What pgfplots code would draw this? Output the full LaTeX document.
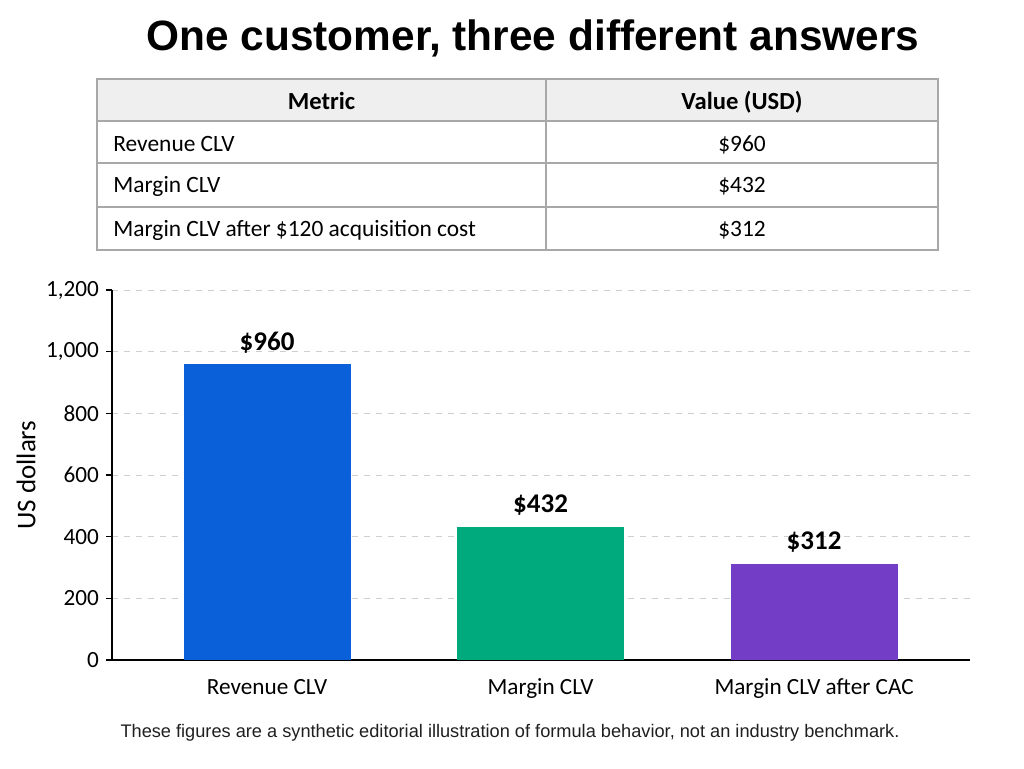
\documentclass[border=0pt]{standalone}
\usepackage{pgfplots}
\pgfplotsset{compat=1.18}
\usepackage{fontspec}
\setmainfont{Carlito}
\newfontfamily\arialfont{Liberation Sans}

\definecolor{barblue}{HTML}{0A60D8}
\definecolor{bargreen}{HTML}{00AA7D}
\definecolor{barpurple}{HTML}{733EC5}
\definecolor{tblline}{HTML}{A8A8A8}
\definecolor{tblhead}{HTML}{EFEFEF}
\definecolor{gridgray}{HTML}{CFCFCF}

\begin{document}
\begin{tikzpicture}[x=1pt,y=1pt]
  \path[use as bounding box] (0,0) rectangle (512,384);

  % title
  \node[font=\arialfont\bfseries\fontsize{21.2}{25}\selectfont] at (266.5,365) {One customer, three different answers};

  % table
  \fill[tblhead] (48.5,323.5) rectangle (469,344.5);
  \draw[tblline, line width=0.6pt] (48.5,259) rectangle (469,344.5);
  \foreach \yy in {323.5,302.5,280.5} \draw[tblline, line width=0.6pt] (48.5,\yy) -- (469,\yy);
  \draw[tblline, line width=0.6pt] (273,259) -- (273,344.5);
  \begin{scope}[every node/.style={font=\fontsize{11.7}{14}\selectfont, inner sep=0pt}]
    \node[anchor=base, font=\bfseries\fontsize{12.3}{14}\selectfont] at (160.75,329.3) {Metric};
    \node[anchor=base, font=\bfseries\fontsize{12.3}{14}\selectfont] at (371,329.3) {Value (USD)};
    \node[anchor=base west] at (56.5,308.5) {Revenue CLV};
    \node[anchor=base west] at (56.5,287.5) {Margin CLV};
    \node[anchor=base west] at (56.5,265.7) {Margin CLV after \$120 acquisition cost};
    \node[anchor=base] at (371,308.5) {\$960};
    \node[anchor=base] at (371,287.5) {\$432};
    \node[anchor=base] at (371,265.7) {\$312};
  \end{scope}

  \begin{axis}[
      at={(56pt,54pt)}, anchor=south west,
      scale only axis,
      width=429pt, height=185pt,
      ybar, bar width=83.5pt, bar shift=0pt,
      xmin=-0.567, xmax=2.57,
      ymin=0, ymax=1200,
      ytick={0,200,...,1200},
      xtick={0,1,2},
      xticklabels={Revenue CLV, Margin CLV, Margin CLV after CAC},
      axis x line=bottom, axis y line=left,
      x axis line style={-, line width=1pt, black},
      y axis line style={-, line width=0.8pt, black},
      xtick style={draw=none},
      ytick style={black, line width=0.6pt},
      tick align=outside, major tick length=3pt,
      ymajorgrids, grid style={dashed, gridgray, line width=0.5pt},
      ticklabel style={font=\fontsize{11.6}{13}\selectfont},
      xticklabel style={anchor=base, yshift=-14pt},
      /pgf/number format/.cd, 1000 sep={,}, assume math mode=true,
      /pgfplots/.cd,
      ylabel={US dollars},
      every axis y label/.style={at={(-43pt,0.5)}, rotate=90, anchor=center, font=\fontsize{13.5}{15}\selectfont},
      nodes near coords={\$\pgfmathprintnumber[1000 sep={}]{\pgfplotspointmeta}},
      every node near coord/.append style={font=\bfseries\fontsize{13.5}{15}\selectfont, black, yshift=2pt},
      clip=false,
    ]
    \addplot[fill=barblue, draw=none] coordinates {(0,960)};
    \addplot[fill=bargreen, draw=none] coordinates {(1,432)};
    \addplot[fill=barpurple, draw=none] coordinates {(2,312)};
  \end{axis}

  % footnote
  \node[font=\arialfont\fontsize{9.1}{11}\selectfont, text=black!88] at (255,17.5) {These figures are a synthetic editorial illustration of formula behavior, not an industry benchmark.};
\end{tikzpicture}
\end{document}
